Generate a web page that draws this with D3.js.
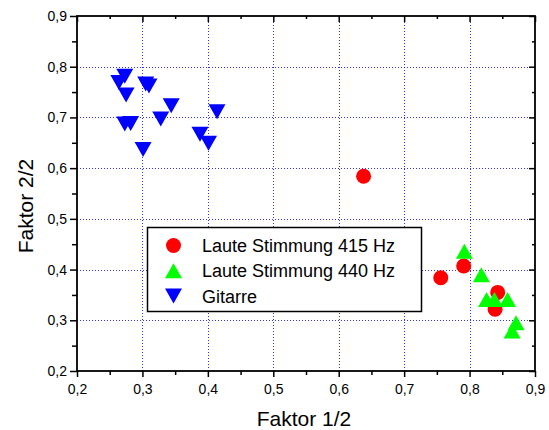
<!DOCTYPE html>
<html>
<head>
<meta charset="utf-8">
<script src="https://cdn.jsdelivr.net/npm/d3@7.9.0/dist/d3.min.js"></script>
<style>
  body { margin: 0; background: #fff; }
  svg { display: block; font-family: "Liberation Sans", Arial, sans-serif; }
</style>
</head>
<body>
<div id="chart"></div>
<script>
/* data */
const seriesNames = ['Laute Stimmung 415 Hz', 'Laute Stimmung 440 Hz', 'Gitarre'];

const lute415X = [0.638, 0.756, 0.791, 0.843, 0.839];
const lute415Y = [0.584, 0.384, 0.407, 0.355, 0.322];

const lute440X = [0.792, 0.818, 0.826, 0.838, 0.858, 0.871, 0.865];
const lute440Y = [0.436, 0.390, 0.341, 0.341, 0.341, 0.295, 0.279];

const gitarreX = [0.264, 0.273, 0.275, 0.305, 0.310, 0.344, 0.328, 0.273, 0.282, 0.388, 0.401, 0.414, 0.301];
const gitarreY = [0.769, 0.781, 0.744, 0.766, 0.762, 0.723, 0.697, 0.687, 0.688, 0.667, 0.649, 0.711, 0.637];

const majorTicks = [0.2, 0.3, 0.4, 0.5, 0.6, 0.7, 0.8, 0.9];
const minorTicks = [0.25, 0.35, 0.45, 0.55, 0.65, 0.75, 0.85];
const gridTicks = [0.3, 0.4, 0.5, 0.6, 0.7, 0.8];

/* layout */
const width = 549;
const height = 430;
const plot = { left: 77, right: 535, top: 16, bottom: 371 };

const svg = d3.select('#chart').append('svg')
  .attr('width', width)
  .attr('height', height);

const x = d3.scaleLinear().domain([0.2, 0.9]).range([plot.left, plot.right]);
const y = d3.scaleLinear().domain([0.2, 0.9]).range([plot.bottom, plot.top]);

const fmt = d3.formatLocale({ decimal: ',', thousands: '.', grouping: [3], currency: ['', ''] }).format('.1f');

/* grid */
const grid = svg.append('g').attr('class', 'grid')
  .attr('stroke', '#0000ff')
  .attr('stroke-width', 1)
  .attr('stroke-dasharray', '1,2')
  .attr('stroke-opacity', 0.8);

grid.selectAll('line.v')
  .data(gridTicks)
  .join('line')
  .attr('class', 'v')
  .attr('x1', d => Math.round(x(d)) + 0.5)
  .attr('x2', d => Math.round(x(d)) + 0.5)
  .attr('y1', plot.top)
  .attr('y2', plot.bottom);

grid.selectAll('line.h')
  .data(gridTicks)
  .join('line')
  .attr('class', 'h')
  .attr('y1', d => Math.round(y(d)) + 0.5)
  .attr('y2', d => Math.round(y(d)) + 0.5)
  .attr('x1', plot.left)
  .attr('x2', plot.right);

/* axes */
function styleAxis(g) {
  g.select('.domain').remove();
  g.selectAll('line').attr('stroke', '#000').attr('stroke-width', 1.5);
  g.selectAll('text').attr('fill', '#000').style('font-size', '14px');
}

svg.append('g')
  .attr('transform', `translate(0,${plot.bottom})`)
  .call(d3.axisBottom(x).tickValues(majorTicks).tickFormat(fmt).tickSize(6).tickPadding(7))
  .call(styleAxis);
svg.append('g')
  .attr('transform', `translate(0,${plot.bottom})`)
  .call(d3.axisBottom(x).tickValues(minorTicks).tickFormat('').tickSize(4))
  .call(styleAxis);

svg.append('g')
  .attr('transform', `translate(${plot.left},0)`)
  .call(d3.axisLeft(y).tickValues(majorTicks).tickFormat(fmt).tickSize(7).tickPadding(3))
  .call(styleAxis);
svg.append('g')
  .attr('transform', `translate(${plot.left},0)`)
  .call(d3.axisLeft(y).tickValues(minorTicks).tickFormat('').tickSize(5))
  .call(styleAxis);

svg.append('g')
  .attr('transform', `translate(0,${plot.top})`)
  .call(d3.axisTop(x).tickValues(majorTicks).tickFormat('').tickSize(-6))
  .call(styleAxis);
svg.append('g')
  .attr('transform', `translate(0,${plot.top})`)
  .call(d3.axisTop(x).tickValues(minorTicks).tickFormat('').tickSize(-3))
  .call(styleAxis);

svg.append('g')
  .attr('transform', `translate(${plot.right},0)`)
  .call(d3.axisRight(y).tickValues(majorTicks).tickFormat('').tickSize(-6))
  .call(styleAxis);
svg.append('g')
  .attr('transform', `translate(${plot.right},0)`)
  .call(d3.axisRight(y).tickValues(minorTicks).tickFormat('').tickSize(-3))
  .call(styleAxis);

/* frame */
svg.append('rect')
  .attr('x', plot.left)
  .attr('y', plot.top)
  .attr('width', plot.right - plot.left)
  .attr('height', plot.bottom - plot.top)
  .attr('fill', 'none')
  .attr('stroke', '#000')
  .attr('stroke-width', 1.8);

/* axis titles */
svg.append('text')
  .attr('x', 304)
  .attr('y', 426)
  .attr('text-anchor', 'middle')
  .style('font-size', '21px')
  .text('Faktor 1/2');

svg.append('text')
  .attr('transform', 'translate(33,206) rotate(-90)')
  .attr('text-anchor', 'middle')
  .style('font-size', '21px')
  .text('Faktor 2/2');

/* marker shapes */
const triUp = {
  draw(ctx) {
    ctx.moveTo(0, -7.5); ctx.lineTo(8.5, 7.5); ctx.lineTo(-8.5, 7.5); ctx.closePath();
  }
};
const triDown = {
  draw(ctx) {
    ctx.moveTo(0, 7.5); ctx.lineTo(8.5, -7.5); ctx.lineTo(-8.5, -7.5); ctx.closePath();
  }
};

const series = [
  { name: seriesNames[0], xs: lute415X, ys: lute415Y, color: '#ff0000', type: 'circle' },
  { name: seriesNames[1], xs: lute440X, ys: lute440Y, color: '#00ff00', type: triUp },
  { name: seriesNames[2], xs: gitarreX, ys: gitarreY, color: '#0000ff', type: triDown }
];

function drawMarker(g, s, cx, cy) {
  if (s.type === 'circle') {
    g.append('circle').attr('cx', cx).attr('cy', cy).attr('r', 7.5).attr('fill', s.color);
  } else {
    g.append('path')
      .attr('transform', `translate(${cx},${cy})`)
      .attr('d', d3.symbol().type(s.type)())
      .attr('fill', s.color);
  }
}

/* legend */
const legend = svg.append('g').attr('class', 'legend');
legend.append('rect')
  .attr('x', 147.5).attr('y', 227.5)
  .attr('width', 274).attr('height', 84)
  .attr('fill', '#fff')
  .attr('stroke', '#000')
  .attr('stroke-width', 1.5);

series.forEach((s, i) => {
  const ly = 245.5 + i * 25.3;
  drawMarker(legend, s, 173.5, ly);
  legend.append('text')
    .attr('x', 202)
    .attr('y', ly + 6.5)
    .style('font-size', '18px')
    .text(s.name);
});

/* points: red, then green, then blue on top */
const marks = svg.append('g').attr('class', 'marks');
series.forEach(s => {
  s.xs.forEach((v, i) => drawMarker(marks, s, x(v), y(s.ys[i])));
});
</script>
</body>
</html>
